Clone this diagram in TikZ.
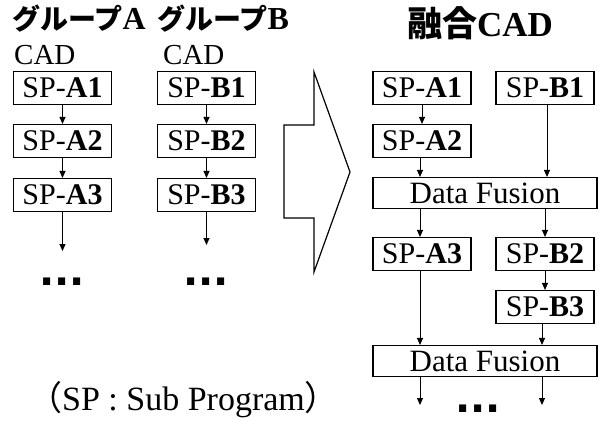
\documentclass[tikz,border=0pt]{standalone}
\usepackage{fontspec}
\setmainfont{Liberation Serif}
\newfontfamily\jpfont{Noto Sans CJK JP}
\newfontfamily\dotfont{DejaVu Sans}
\usetikzlibrary{arrows.meta}
\begin{document}
\begin{tikzpicture}[x=1pt,y=-1pt,
  spbox/.style={draw, line width=1.1pt, minimum width=98pt, minimum height=33pt, inner sep=0pt, font=\fontsize{30}{30}\selectfont},
  dfbox/.style={draw, line width=1.1pt, minimum width=224pt, minimum height=31pt, inner sep=0pt, font=\fontsize{31}{31}\selectfont},
  flow/.style={line width=1pt, -{Triangle[length=7pt,width=6pt]}},
  title/.style={anchor=base west, inner sep=0pt, font=\fontsize{28}{28}\selectfont},
  dots/.style={inner sep=0pt, font=\dotfont\bfseries\fontsize{40}{40}\selectfont}]
\useasboundingbox (0,0) rectangle (599,420);
% left titles
\node[title] (tA) at (12,30) {{\jpfont\bfseries グループ}{\fontsize{32}{32}\selectfont\bfseries A}};
\node[title] (tB) at (157,30) {{\jpfont\bfseries グループ}{\fontsize{32}{32}\selectfont\bfseries B}};
\node[title, font=\fontsize{29}{29}\selectfont] (cA) at (14,64) {CAD};
\node[title, font=\fontsize{29}{29}\selectfont] (cB) at (163,64) {CAD};
% left columns
\node[spbox] (a1) at (62.5,88) {SP-\textbf{A1}};
\node[spbox] (a2) at (62.5,141) {SP-\textbf{A2}};
\node[spbox] (a3) at (62.5,195) {SP-\textbf{A3}};
\node[spbox] (b1) at (206.5,88) {SP-\textbf{B1}};
\node[spbox] (b2) at (206.5,141) {SP-\textbf{B2}};
\node[spbox] (b3) at (206.5,195) {SP-\textbf{B3}};
\coordinate (ae) at (62.5,251);
\coordinate (be) at (206.5,245);
\draw[flow] (a1) -- (a2);
\draw[flow] (a2) -- (a3);
\draw[flow] (a3) -- (ae);
\draw[flow] (b1) -- (b2);
\draw[flow] (b2) -- (b3);
\draw[flow] (b3) -- (be);
\node[dots] (dA) at (62,282) {...};
\node[dots] (dB) at (206,282) {...};
% big arrow
\draw[line width=1.2pt, line join=miter] (284,125) -- (314,125) -- (314,72) -- (350,172) -- (314,272) -- (314,218) -- (284,218) -- cycle;
% right title
\node[anchor=base, inner sep=0pt, font=\fontsize{35}{35}\selectfont] (tF) at (480,37) {{\jpfont\bfseries 融合}\textbf{CAD}};
% right flow
\node[spbox] (ra1) at (422,88) {SP-\textbf{A1}};
\node[spbox] (rb1) at (545,88) {SP-\textbf{B1}};
\node[spbox] (ra2) at (422,141) {SP-\textbf{A2}};
\node[dfbox] (df1) at (485,193) {Data Fusion};
\node[spbox] (ra3) at (422,254) {SP-\textbf{A3}};
\node[spbox] (rb2) at (545,254) {SP-\textbf{B2}};
\node[spbox] (rb3) at (545,307) {SP-\textbf{B3}};
\node[dfbox] (df2) at (485,361) {Data Fusion};
\coordinate (e1) at (420,405);
\coordinate (e2) at (542,405);
\draw[flow] (ra1) -- (ra2);
\draw[flow] (ra2.south -| 420,0) -- (df1.north -| 420,0);
\draw[flow] (rb1.south -| 547,0) -- (df1.north -| 547,0);
\draw[flow] (df1.south -| 420,0) -- (ra3.north -| 420,0);
\draw[flow] (df1.south -| 545,0) -- (rb2.north -| 545,0);
\draw[flow] (rb2) -- (rb3);
\draw[flow] (ra3.south -| 420,0) -- (df2.north -| 420,0);
\draw[flow] (rb3.south -| 542,0) -- (df2.north -| 542,0);
\draw[flow] (df2.south -| 420,0) -- (e1);
\draw[flow] (df2.south -| 542,0) -- (e2);
\node[dots] (dF) at (478,409) {...};
% legend
\node[anchor=base west, inner sep=0pt, font=\fontsize{34}{34}\selectfont] (leg) at (28,410) {{\jpfont （}SP : Sub Program{\jpfont ）}};
\end{tikzpicture}
\end{document}
